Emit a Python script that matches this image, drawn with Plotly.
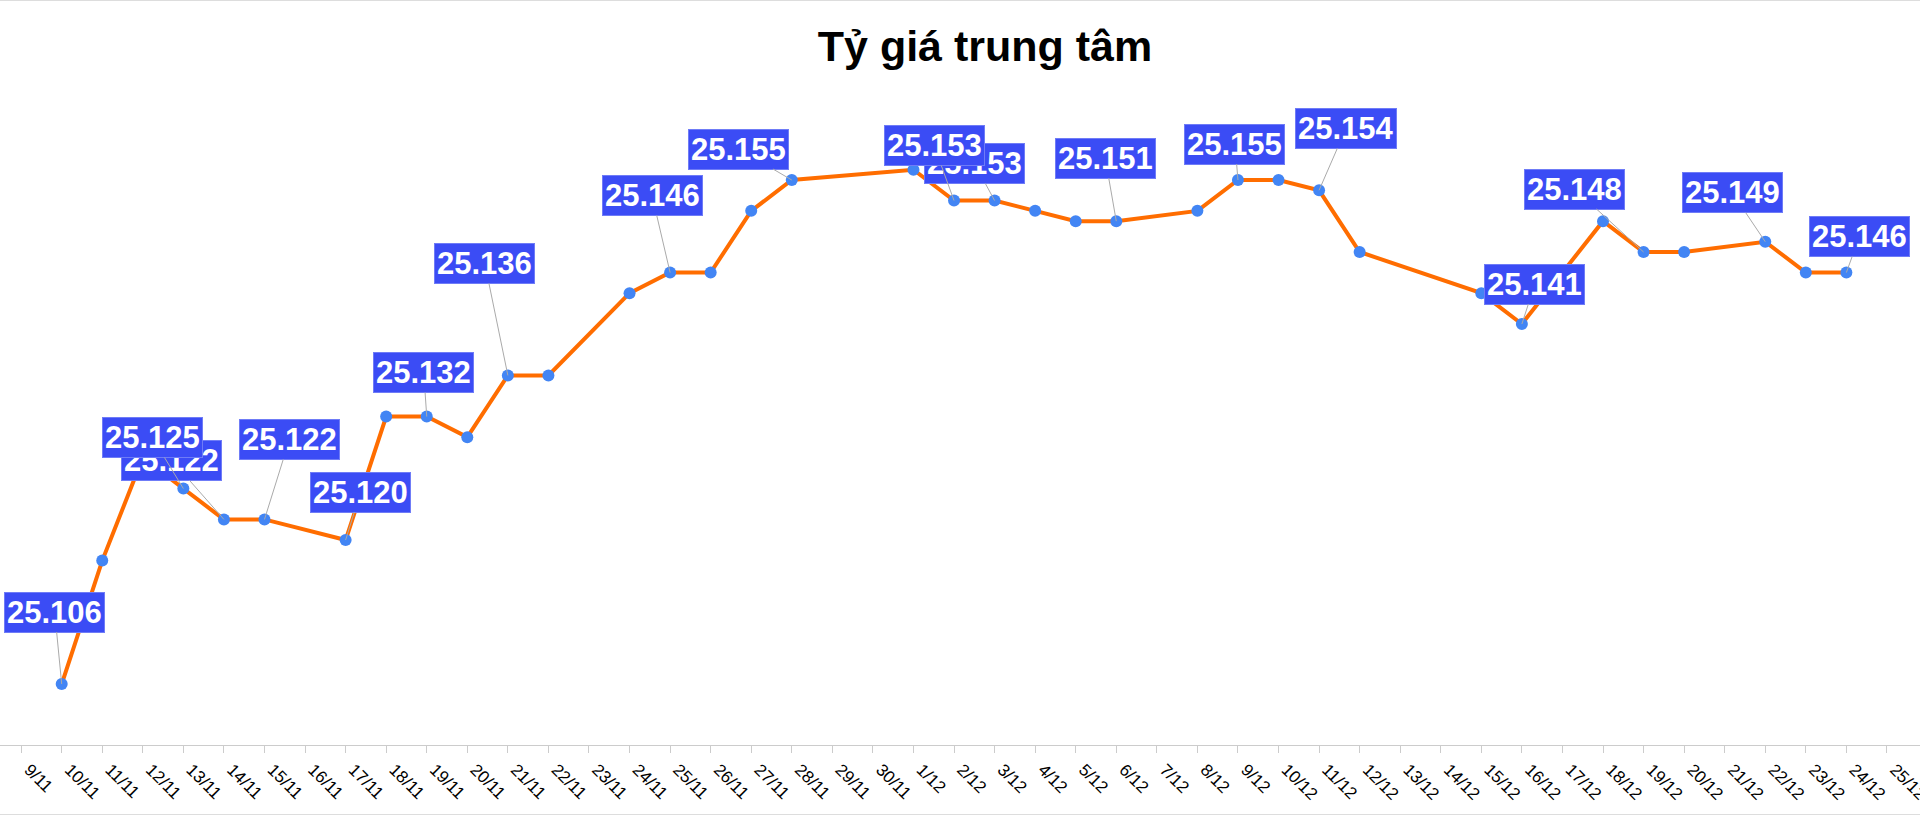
import plotly.graph_objects as go

# ---- data ----
dates = [
    "2025-11-10", "2025-11-11", "2025-11-12", "2025-11-13", "2025-11-14", "2025-11-15",
    "2025-11-17", "2025-11-18", "2025-11-19", "2025-11-20", "2025-11-21", "2025-11-22",
    "2025-11-24", "2025-11-25", "2025-11-26", "2025-11-27", "2025-11-28",
    "2025-12-01", "2025-12-02", "2025-12-03", "2025-12-04", "2025-12-05", "2025-12-06",
    "2025-12-08", "2025-12-09", "2025-12-10", "2025-12-11", "2025-12-12",
    "2025-12-15", "2025-12-16", "2025-12-18", "2025-12-19", "2025-12-20",
    "2025-12-22", "2025-12-23", "2025-12-24",
]
rates = [
    25106, 25118, 25128, 25125, 25122, 25122,
    25120, 25132, 25132, 25130, 25136, 25136,
    25144, 25146, 25146, 25152, 25155,
    25156, 25153, 25153, 25152, 25151, 25151,
    25152, 25155, 25155, 25154, 25148,
    25144, 25141, 25151, 25148, 25148,
    25149, 25146, 25146,
]
labelled_dates = [
    "2025-11-10", "2025-11-13", "2025-11-14", "2025-11-15", "2025-11-17", "2025-11-19",
    "2025-11-21", "2025-11-25", "2025-11-28", "2025-12-02", "2025-12-03", "2025-12-06",
    "2025-12-09", "2025-12-11", "2025-12-16", "2025-12-19", "2025-12-22", "2025-12-24",
]
title_text = "Tỷ giá trung tâm"

# ---- label placement (pixel offsets of label boxes from their points) ----
label_offsets = [
    (-7, -72), (-31, -51), (-52, -59), (25, -80), (15, -48), (-3, -44),
    (-23, -112), (-18, -77), (-53, -31), (-20, -55), (-20, -37), (-11, -63),
    (-3, -36), (27, -62), (13, -40), (-69, -63), (-33, -49), (13, -36),
]

FONT = "Arial, 'Liberation Sans', sans-serif"
W, H = 1920, 816
T, B = 90, 71

fig = go.Figure()
fig.add_trace(go.Scatter(
    x=dates, y=rates, mode="lines+markers",
    line=dict(color="#ff6d00", width=4),
    marker=dict(color="#4285f4", size=12),
    hoverinfo="x+y", showlegend=False,
))

value_by_date = dict(zip(dates, rates))
annotations = []
for d, (ax, ay) in zip(labelled_dates, label_offsets):
    v = value_by_date[d]
    annotations.append(dict(
        x=d, y=v, xref="x", yref="y",
        text=f"<b>{v:,}</b>".replace(",", "."),
        showarrow=True, arrowhead=0, arrowwidth=1, arrowcolor="#aaaaaa",
        standoff=0, ax=ax, ay=ay,
        bgcolor="#3b4cf5", bordercolor="#6f7cf7", borderwidth=1, borderpad=2,
        font=dict(family=FONT, size=31, color="white"),
    ))
annotations.reverse()  # earlier labels drawn on top

plot_h = H - T - B
shapes = [
    dict(type="line", xref="paper", yref="paper", x0=0, x1=1,
         y0=1 + (T - 0.5) / plot_h, y1=1 + (T - 0.5) / plot_h,
         line=dict(color="#dddddd", width=1)),
    dict(type="line", xref="paper", yref="paper", x0=0, x1=1,
         y0=-(B - 1.5) / plot_h, y1=-(B - 1.5) / plot_h,
         line=dict(color="#dddddd", width=1)),
]

fig.update_layout(
    width=W, height=H,
    margin=dict(l=0, r=0, t=T, b=B, pad=0, autoexpand=False),
    paper_bgcolor="white", plot_bgcolor="white",
    title=dict(text=f"<b>{title_text}</b>", x=985 / W, xanchor="center",
               y=1 - 46 / H, yanchor="middle", yref="container",
               font=dict(family=FONT, size=43, color="black")),
    xaxis=dict(
        type="date",
        range=["2025-11-08 11:30", "2025-12-25 19:34"],
        tick0="2025-11-01", dtick=86400000, tickformat="%-d/%m",
        tickangle=45, ticks="outside", ticklen=7, tickcolor="#cccccc",
        ticklabelshift=8, ticklabeloverflow="allow", automargin=False,
        showline=True, linecolor="#cccccc", linewidth=1,
        showgrid=False, zeroline=False,
        tickfont=dict(family=FONT, size=17, color="black"),
    ),
    yaxis=dict(range=[25100.07, 25163.75], visible=False, fixedrange=True),
    annotations=annotations,
    shapes=shapes,
)

fig.write_html("out.html")
